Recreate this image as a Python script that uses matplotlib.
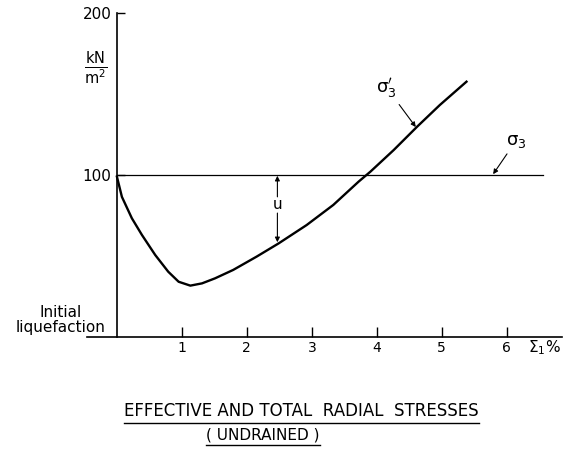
import matplotlib
matplotlib.use("Agg")
import matplotlib.pyplot as plt
from matplotlib.lines import Line2D

# axial strain (%) and effective radial stress (kN/m2)
strain = [0.0, 0.077, 0.23, 0.385, 0.59, 0.79, 0.95, 1.13, 1.31, 1.51, 1.79,
          2.15, 2.49, 2.92, 3.33, 3.72, 3.9, 4.26, 4.62, 4.97, 5.38]
sigma3_eff = [99, 86.5, 73.3, 63, 50.6, 40.3, 34.1, 31.7, 33.1, 36.2, 41.4,
              49.6, 57.8, 69.1, 81.5, 95.9, 102, 115.4, 129.8, 143.2, 157.6]

# total radial stress (constant cell pressure)
total_strain = [0.0, 6.56]
sigma3_tot = [100, 100]

x_ticks = [1, 2, 3, 4, 5, 6]
y_ticks = [100, 200]

plt.rcParams["font.family"] = "DejaVu Sans"
plt.rcParams["mathtext.fontset"] = "dejavusans"

fig = plt.figure(figsize=(5.77, 4.51), dpi=100)
ax = fig.add_axes([0.1508, 0.2528, 0.8232, 0.7184])
ax.set_xlim(-0.46, 6.85)
ax.set_ylim(0, 200)

for s in ["top", "right"]:
    ax.spines[s].set_visible(False)
ax.spines["left"].set_position(("data", 0))
ax.spines["left"].set_linewidth(1.2)
ax.spines["bottom"].set_linewidth(1.2)

ax.set_xticks(x_ticks)
ax.set_xticklabels([str(t) for t in x_ticks], fontsize=10)
ax.set_yticks(y_ticks)
ax.set_yticklabels([str(t) for t in y_ticks], fontsize=11)
ax.tick_params(axis="x", direction="in", length=7, width=1, pad=3)
ax.tick_params(axis="y", direction="in", length=6, width=1, pad=4)

ax.plot(total_strain, sigma3_tot, color="black", linewidth=0.9, clip_on=False)
ax.plot(strain, sigma3_eff, color="black", linewidth=1.7, clip_on=False,
        solid_joinstyle="round")

arrow = dict(arrowstyle="-|>", color="black", lw=0.8, mutation_scale=7,
             shrinkA=0, shrinkB=0)
# pore pressure u between the two curves
ax.annotate("", xy=(2.47, 99.5), xytext=(2.47, 86.5), arrowprops=arrow)
ax.annotate("", xy=(2.47, 58.5), xytext=(2.47, 76.5), arrowprops=arrow)
ax.text(2.47, 81.5, "u", ha="center", va="center", fontsize=11)

# curve labels with leaders
ax.annotate("σ$_3'$", xy=(4.6, 129.6), xytext=(4.15, 154),
            ha="center", va="center", fontsize=13,
            arrowprops=dict(arrow, shrinkA=2))
ax.annotate("σ$_3$", xy=(5.79, 100.5), xytext=(6.14, 121),
            ha="center", va="center", fontsize=13,
            arrowprops=dict(arrow, shrinkA=1))

# axis labels
ax.text(-0.33, 166, r"$\frac{\mathrm{kN}}{\mathrm{m}^2}$", ha="center",
        va="center", fontsize=15)
ax.text(-0.18, 10.5, "Initial\nliquefaction", ha="right", va="center",
        multialignment="center", fontsize=11, linespacing=1.0)
ax.text(6.58, -6.3, r"$\Sigma_1$%", ha="center", va="center", fontsize=11,
        clip_on=False)

# underlined caption
t1 = fig.text(0.5225, 1 - 411.5 / 451, "EFFECTIVE AND TOTAL  RADIAL  STRESSES",
              ha="center", va="center", fontsize=12)
t2 = fig.text(0.456, 1 - 435 / 451, "( UNDRAINED )", ha="center", va="center",
              fontsize=11)
fig.canvas.draw()
r = fig.canvas.get_renderer()
for t in (t1, t2):
    bb = t.get_window_extent(r).transformed(fig.transFigure.inverted())
    fig.add_artist(Line2D([bb.x0, bb.x1], [bb.y0 - 0.006, bb.y0 - 0.006],
                          color="black", linewidth=1.0,
                          transform=fig.transFigure))

fig.savefig("out.png", dpi=100)
